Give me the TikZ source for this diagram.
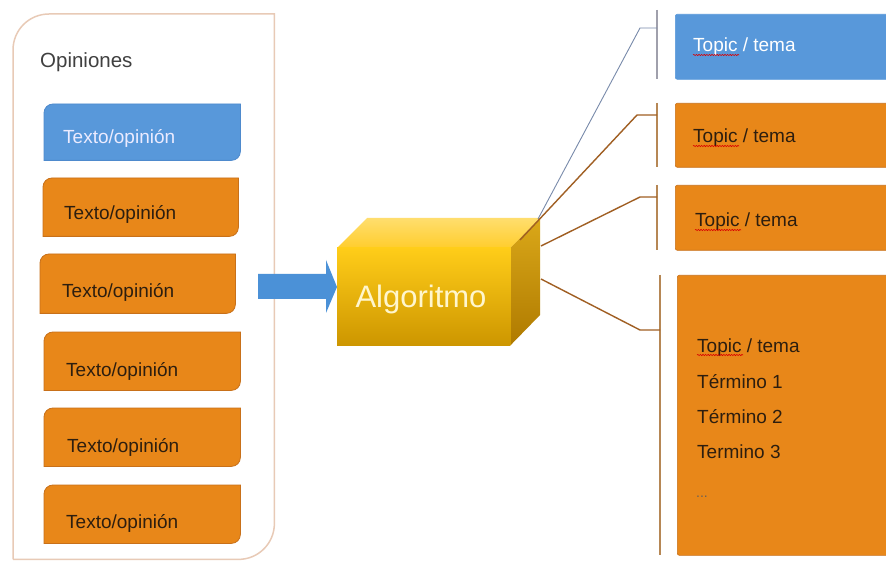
\documentclass[tikz,border=0pt]{standalone}
\usepackage{fontspec}
\setmainfont{Liberation Sans}
\usetikzlibrary{decorations.pathmorphing}
\definecolor{obox}{RGB}{232,135,25}
\definecolor{oedge}{RGB}{200,112,25}
\definecolor{bbox}{RGB}{88,152,218}
\definecolor{bedge}{RGB}{78,138,205}
\definecolor{framec}{RGB}{232,202,182}
\definecolor{dtext}{RGB}{45,30,15}
\definecolor{brk}{RGB}{182,135,85}
\definecolor{gbrk}{RGB}{160,160,172}
\definecolor{conn}{RGB}{160,95,35}
\definecolor{gconn}{RGB}{120,138,170}
\definecolor{arrblue}{RGB}{75,145,215}
\newcommand{\diagshape}[3]{\filldraw[fill=#2,draw=#3,line width=0.8pt]
 ([yshift=-9pt]#1.north west) .. controls ([yshift=-4pt]#1.north west) and ([xshift=4pt]#1.north west) .. ([xshift=9pt]#1.north west)
 -- (#1.north east) -- ([yshift=9pt]#1.south east) .. controls ([yshift=4pt]#1.south east) and ([xshift=-4pt]#1.south east) .. ([xshift=-9pt]#1.south east)
 -- (#1.south west) -- cycle;}
\tikzset{
 boxnode/.style={draw=none, inner sep=0pt, anchor=north west},
 ltext/.style={inner sep=0pt, anchor=base west, font=\fontsize{19}{22}\selectfont, text=dtext},
 wtext/.style={ltext, text=white},
 rbox/.style={boxnode, rounded corners=2pt, fill=obox, draw=oedge, line width=0.6pt, minimum width=215pt},
 conline/.style={draw=conn, line width=1.4pt},
 gconline/.style={draw=gconn, line width=0.9pt},
 brkline/.style={draw=brk, line width=2pt},
 spell/.style={draw=red!85!black, line width=0.6pt, decorate, decoration={snake, amplitude=0.6pt, segment length=2.6pt}},
}
\begin{document}
\begin{tikzpicture}[x=1pt,y=-1pt]
\useasboundingbox (0,0) rectangle (886,561);
\clip (0,0) rectangle (886,561);
\fill[white] (0,0) rectangle (886,561);

% container
\node[boxnode, minimum width=261pt, minimum height=545pt] (opin) at (13,14) {};
\draw[framec, line width=1.5pt] (opin.south west) -- ([yshift=-36pt]opin.north west)
  .. controls ([yshift=-16pt]opin.north west) and ([xshift=16pt]opin.north west) .. ([xshift=36pt]opin.north west)
  -- (opin.north east) -- ([yshift=36pt]opin.south east)
  .. controls ([yshift=16pt]opin.south east) and ([xshift=-16pt]opin.south east) .. ([xshift=-36pt]opin.south east)
  -- (opin.south west);
\node[inner sep=0pt, anchor=base west, font=\fontsize{20.5}{24}\selectfont, text=black!75] (optitle) at (40,68) {Opiniones};

% left boxes
\node[boxnode, minimum width=196pt, minimum height=56pt] (b0) at (44,104) {};
\node[boxnode, minimum width=195pt, minimum height=58pt] (b1) at (43,178) {};
\node[boxnode, minimum width=195pt, minimum height=59pt] (b2) at (40,254) {};
\node[boxnode, minimum width=196pt, minimum height=58pt] (b3) at (44,332) {};
\node[boxnode, minimum width=196pt, minimum height=58pt] (b4) at (44,408) {};
\node[boxnode, minimum width=196pt, minimum height=58pt] (b5) at (44,485) {};
\diagshape{b0}{bbox}{bedge}
\diagshape{b1}{obox}{oedge}
\diagshape{b2}{obox}{oedge}
\diagshape{b3}{obox}{oedge}
\diagshape{b4}{obox}{oedge}
\diagshape{b5}{obox}{oedge}
\node[wtext, text=white!92!blue] (t0) at (63,144) {Texto/opinión};
\node[ltext] (t1) at (64,220) {Texto/opinión};
\node[ltext] (t2) at (62,298) {Texto/opinión};
\node[ltext] (t3) at (66,376) {Texto/opinión};
\node[ltext] (t4) at (67,452) {Texto/opinión};
\node[ltext] (t5) at (66,528) {Texto/opinión};

% cube
\node[boxnode, minimum width=173pt, minimum height=97pt] (algo) at (337,248) {};
\shade[top color={rgb,255:red,255;green,222;blue,110}, bottom color={rgb,255:red,255;green,205;blue,45}]
  (algo.north west) -- (367,218) -- (540,218) -- (algo.north east) -- cycle;
\shade[top color={rgb,255:red,218;green,168;blue,25}, bottom color={rgb,255:red,175;green,122;blue,0}]
  (algo.north east) -- (540,218) -- (540,315) -- (algo.south east) -- cycle;
\shade[top color={rgb,255:red,255;green,205;blue,25}, bottom color={rgb,255:red,205;green,150;blue,0}]
  (algo.north west) rectangle (algo.south east);
\node[inner sep=0pt, anchor=base, font=\fontsize{31}{36}\selectfont, text={rgb,255:red,255;green,246;blue,205}] (algtxt) at (421,308) {Algoritmo};

% blue arrow
\fill[arrblue] (258,274) -- (326,274) -- (326,260) -- (algo.west |- 0,287) -- (326,313) -- (326,299) -- (258,299) -- cycle;

% right boxes
\node[rbox, fill=bbox, draw=bbox, minimum height=65pt] (r1) at (675,14) {};
\node[rbox, minimum height=64pt] (r2) at (675,103) {};
\node[rbox, minimum height=65pt] (r3) at (675,185) {};
\node[rbox, minimum width=213pt, minimum height=280pt] (r4) at (677,275) {};
\node[wtext] (rt1) at (693,52) {Topic / tema};
\node[ltext] (rt2) at (693,143) {Topic / tema};
\node[ltext] (rt3) at (695,227) {Topic / tema};
\node[ltext] (rt4) at (697,352) {Topic / tema};
\node[ltext] (term1) at (697,388) {Término 1};
\node[ltext] (term2) at (697,423) {Término 2};
\node[ltext] (term3) at (697,458) {Termino 3};
\node[ltext, font=\fontsize{14}{16}\selectfont, text=dtext!70] (dots) at (696,497) {...};
\foreach \t in {rt1,rt2,rt3,rt4}
  \draw[spell] ([yshift=-3pt]\t.base west) -- ([xshift=46pt,yshift=-3pt]\t.base west);

% brackets
\coordinate (k1a) at (657,10);  \coordinate (k1b) at (657,79);  \coordinate (k1m) at (657,28);
\coordinate (k2a) at (657,103); \coordinate (k2b) at (657,167); \coordinate (k2m) at (657,115);
\coordinate (k3a) at (657,185); \coordinate (k3b) at (657,250); \coordinate (k3m) at (657,197);
\coordinate (k4a) at (660,275); \coordinate (k4b) at (660,555); \coordinate (k4m) at (660,330);
\draw[draw=gbrk, line width=1.8pt] (k1a) -- (k1b);
\draw[brkline] (k2a) -- (k2b);
\draw[brkline] (k3a) -- (k3b);
\draw[brkline] (k4a) -- (k4b);

% connectors
\coordinate (s1) at (538,219);
\coordinate (s2) at (520,240);
\coordinate (s3) at (541,246);
\coordinate (s4) at (541,279);
\draw[gconline] (s1) -- ([xshift=-17pt]k1m) -- (k1m);
\draw[conline] (s2) -- ([xshift=-20pt]k2m) -- (k2m);
\draw[conline] (s3) -- ([xshift=-17pt]k3m) -- (k3m);
\draw[conline] (s4) -- ([xshift=-20pt]k4m) -- (k4m);
\end{tikzpicture}
\end{document}
